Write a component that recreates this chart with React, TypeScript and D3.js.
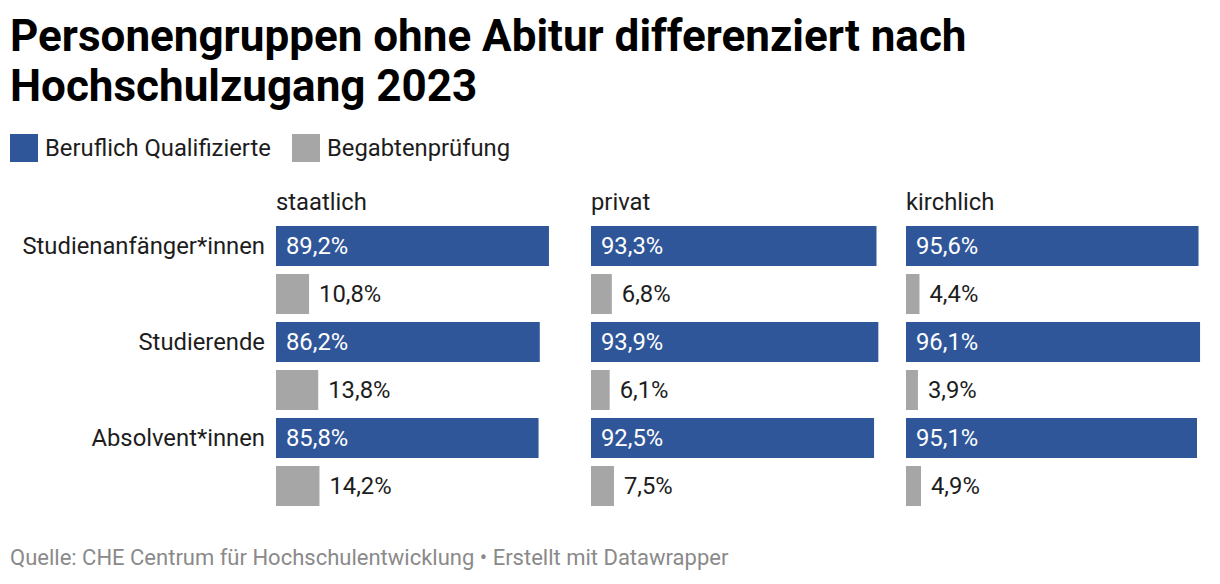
import * as d3 from 'd3';

const WIDTH = 1220;
const HEIGHT = 584;

const sectors = ['staatlich', 'privat', 'kirchlich'];
const groups = ['Studienanfänger*innen', 'Studierende', 'Absolvent*innen'];
const series = ['Beruflich Qualifizierte', 'Begabtenprüfung'];

// values per group, one entry per sector
const beruflich = [
    [89.2, 93.3, 95.6],
    [86.2, 93.9, 96.1],
    [85.8, 92.5, 95.1],
];
const begabten = [
    [10.8, 6.8, 4.4],
    [13.8, 6.1, 3.9],
    [14.2, 7.5, 4.9],
];

const colours = ['#30569a', '#a6a6a6'];
const labelColours = ['#ffffff', '#1d1d1d'];
const FONT = 'Roboto, sans-serif';

const fmt = (v: number) => `${v.toFixed(1).replace('.', ',')}%`;

export default function App() {
    const colScale = d3.scaleBand<string>().domain(sectors).range([276, 1212]).paddingInner(9 / 315);
    const groupScale = d3.scaleBand<string>().domain(groups).range([226, 514]);
    const seriesScale = d3.scaleBand<string>().domain(series).range([0, 88]).paddingInner(1 / 6);
    const valueScale = d3.scaleLinear().domain([0, 100]).range([0, colScale.bandwidth()]);

    const bars = groups.flatMap((g, gi) =>
        sectors.flatMap((s, si) =>
            series.map((ser, k) => {
                const v = k === 0 ? beruflich[gi][si] : begabten[gi][si];
                const x = colScale(s) ?? 0;
                const y = (groupScale(g) ?? 0) + (seriesScale(ser) ?? 0);
                const w = valueScale(v);
                return { key: `${g}-${s}-${ser}`, x, y, w, h: seriesScale.bandwidth(), v, k };
            })
        )
    );

    return (
        <svg width={WIDTH} height={HEIGHT} style={{ position: 'absolute', left: 0, top: 0 }}>
            <rect width={WIDTH} height={HEIGHT} fill="#ffffff" />
            <g fontFamily={FONT} fontWeight={700} fontSize={44} fill="#000">
                <text x={10} y={51}>Personengruppen ohne Abitur differenziert nach</text>
                <text x={10} y={101}>Hochschulzugang 2023</text>
            </g>
            <g fontFamily={FONT} fontSize={23.8} fill="#1d1d1d">
                <rect x={10} y={134} width={28} height={28} fill={colours[0]} />
                <text x={45} y={156}>{series[0]}</text>
                <rect x={292} y={134} width={28} height={28} fill={colours[1]} />
                <text x={327} y={156}>{series[1]}</text>
            </g>
            <g fontFamily={FONT} fontSize={23.8} fill="#1d1d1d">
                {sectors.map((s) => (
                    <text key={s} x={colScale(s)} y={210}>
                        {s}
                    </text>
                ))}
                {groups.map((g) => (
                    <text
                        key={g}
                        x={265}
                        y={(groupScale(g) ?? 0) + seriesScale.bandwidth() / 2}
                        dy="0.35em"
                        textAnchor="end"
                    >
                        {g}
                    </text>
                ))}
            </g>
            <g fontFamily={FONT} fontSize={23.8}>
                {bars.map((b) => (
                    <g key={b.key}>
                        <rect x={b.x} y={b.y} width={b.w} height={b.h} fill={colours[b.k]} />
                        <text
                            x={b.k === 0 ? b.x + 10 : b.x + b.w + 10}
                            y={b.y + b.h / 2}
                            dy="0.35em"
                            fill={labelColours[b.k]}
                        >
                            {fmt(b.v)}
                        </text>
                    </g>
                ))}
            </g>
            <text x={10} y={565} fontFamily={FONT} fontSize={22} fill="#8a8a8a">
                Quelle: CHE Centrum für Hochschulentwicklung • Erstellt mit Datawrapper
            </text>
        </svg>
    );
}
